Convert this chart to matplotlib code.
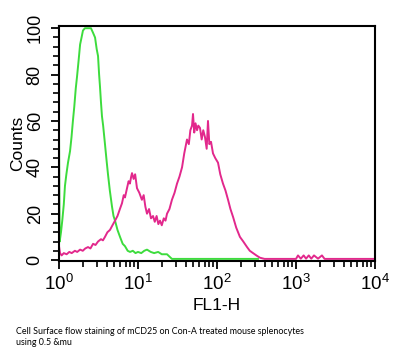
import matplotlib
matplotlib.use("Agg")
import matplotlib.pyplot as plt
from matplotlib.ticker import LogLocator, MultipleLocator, NullFormatter

plt.rcParams['font.family'] = ['Liberation Sans', 'DejaVu Sans']
plt.rcParams['mathtext.default'] = 'regular'

# histograma verde (control)
verde_fl1 = [1.00, 1.02, 1.06, 1.10, 1.15, 1.19, 1.24, 1.30, 1.38, 1.44, 1.50, 1.56,
             1.63, 1.69, 1.77, 1.85, 1.93, 2.01, 2.13, 2.26, 2.40, 2.54, 2.70, 2.86,
             3.00, 3.12, 3.22, 3.30, 3.40, 3.50, 3.62, 3.82, 4.00, 4.17, 4.40, 4.69,
             4.90, 5.12, 5.50, 5.92, 6.40, 6.84, 7.40, 7.93, 8.6, 9.3, 10.0, 11.0,
             12.0, 13.0, 14.5, 16.0, 18.0, 20.0, 23.3, 25.0, 26.9, 330]
verde_cuentas = [56, 8, 12, 17, 24, 32, 37, 42, 47, 53, 60, 66,
                 74, 79, 86, 93, 96, 99, 100, 100, 100, 100, 98, 96,
                 91, 88, 80, 75, 68, 62, 58, 50, 43, 37, 30, 23,
                 19, 17, 13, 10, 7, 6, 4, 3.5, 4, 3, 3.5, 3,
                 4, 4.5, 3.5, 3, 3.5, 2.5, 2.5, 1.5, 0.5, 0.5]

# histograma rosa (anti-CD25)
rosa_fl1 = [1.00, 1.03, 1.08, 1.15, 1.25, 1.35, 1.45, 1.59, 1.70, 1.85, 2.00, 2.15,
            2.33, 2.50, 2.70, 2.90, 3.12, 3.40, 3.60, 3.82, 4.10, 4.42, 4.75, 5.12,
            5.50, 5.90, 6.27, 6.60, 6.84, 7.26, 7.60, 7.90, 8.20, 8.40, 8.80, 9.20,
            9.71, 10.4, 11.2, 11.8, 12.4, 13.0, 13.8, 14.6, 15.5, 16.3, 17.2, 18.1,
            19.0, 20.0, 21.2, 22.3, 23.3, 25.0, 26.9, 29.0, 31.2, 33.5, 36.1, 38.5,
            41.7, 44.0, 46.0, 48.3, 49.7, 51.5, 53.5, 55.9, 58.0, 60.9, 64.0, 67.0,
            70.5, 74.0, 76.9, 80.0, 84.0, 89.0, 95.0, 103, 110, 119, 128, 138,
            148, 160, 175, 195, 215, 240, 260, 286, 315, 350, 400, 1000,
            1060, 1150, 1250, 1340, 1450, 1560, 1690, 1900, 2130, 2300, 10000]
rosa_cuentas = [6, 3, 2, 3, 2.5, 3.5, 3, 4, 3.5, 4.5, 4, 5,
                5.6, 5, 7, 6.5, 8, 9, 8.5, 10, 12, 13, 15, 17,
                19, 22, 24.5, 28, 27, 31, 34, 33, 36, 37.5, 35, 37,
                31, 29, 26, 28, 23, 20, 22, 18, 19, 16.5, 19, 15.5,
                17, 15, 18, 17, 20, 22, 26, 29, 33, 36, 40, 46,
                52, 50, 56, 58, 63, 55, 59, 56, 58, 57, 52, 56,
                53, 48, 60, 50, 51, 46, 44, 42, 37, 33, 30, 26,
                22, 18.5, 14, 10, 8, 5.6, 4, 3, 2, 1, 0.5, 0.5,
                2, 0.6, 2, 0.6, 2, 0.6, 2, 0.6, 2, 0.5, 0.5]

pie = ("Cell Surface flow staining of mCD25 on Con-A treated mouse splenocytes\n"
       "using 0.5 &mu")

fig = plt.figure(figsize=(3.97, 3.58), dpi=100)
ax = fig.add_axes([0.1486, 0.271, 0.796, 0.656])

ax.plot(verde_fl1, verde_cuentas, color="#3ddc3d", lw=1.4)
ax.plot(rosa_fl1, rosa_cuentas, color="#e2288c", lw=1.4)

ax.set_xscale("log")
ax.set_xlim(1, 10000)
ax.set_ylim(-0.4, 100.9)

ax.xaxis.set_major_locator(LogLocator(base=10))
ax.xaxis.set_minor_locator(LogLocator(base=10, subs=range(2, 10)))
ax.xaxis.set_minor_formatter(NullFormatter())
ax.yaxis.set_major_locator(MultipleLocator(20))
ax.yaxis.set_minor_locator(MultipleLocator(4))

for s in ax.spines.values():
    s.set_linewidth(1.5)
ax.tick_params(which="major", length=6, width=1.3, direction="out")
ax.tick_params(which="minor", length=4, width=1.2, direction="out")
ax.tick_params(axis="x", labelsize=13.5, pad=3)
ax.tick_params(axis="y", labelsize=13, pad=5)
plt.setp(ax.get_yticklabels(), rotation=90, va="center")

ax.set_xlabel("FL1-H", fontsize=12.5, labelpad=3)
ax.set_ylabel("Counts", fontsize=12.5, labelpad=1)

fig.text(0.04, 0.03, pie, fontsize=6.4, family=["Lato", "DejaVu Sans"],
         ha="left", va="bottom", linespacing=1.3)

plt.savefig("out.png", dpi=100)
